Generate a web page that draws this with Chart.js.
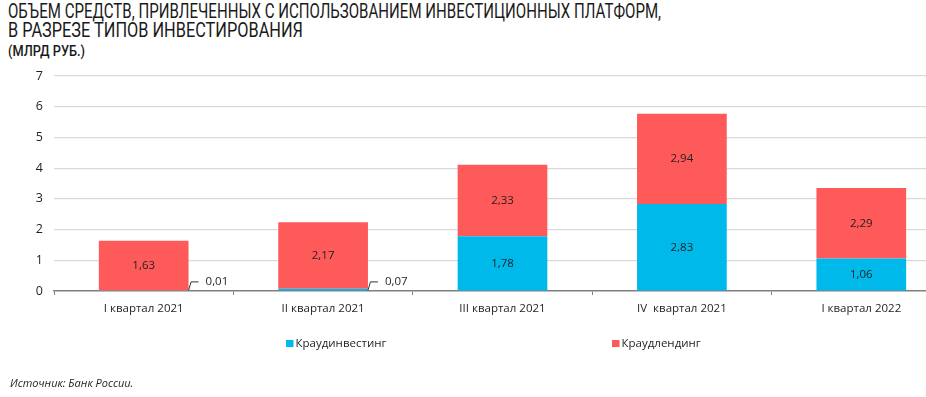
<!DOCTYPE html>
<html>
<head>
<meta charset="utf-8">
<script src="https://cdn.jsdelivr.net/npm/chart.js"></script>
<style>
  html, body { margin: 0; padding: 0; background: #fff; overflow: hidden; }
  body { width: 926px; height: 397px; position: relative; }
  .head {
    position: absolute; left: 8px;
    font-family: Roboto, "Liberation Sans", sans-serif;
    font-size: 20.5px; line-height: 19px; color: #1a1a1a;
    transform-origin: 0 0; white-space: nowrap;
  }
  #t1 { top: 2px; }
  #t2 { top: 21px; }
  #unit {
    position: absolute; left: 8px; top: 43px;
    font-family: Roboto, "Liberation Sans", sans-serif;
    font-size: 14px; font-weight: 500; color: #1a1a1a;
    transform-origin: 0 0; white-space: nowrap;
  }
  #source {
    position: absolute; left: 10px; top: 375px;
    font-family: "Open Sans", sans-serif; font-style: italic;
    font-size: 11px; color: #1f1f1f;
  }
  #wrap { position: absolute; left: 0; top: 0; width: 951px; height: 397px; }
</style>
</head>
<body>
<div class="head" id="t1">ОБЪЕМ СРЕДСТВ, ПРИВЛЕЧЕННЫХ С ИСПОЛЬЗОВАНИЕМ ИНВЕСТИЦИОННЫХ ПЛАТФОРМ,</div>
<div class="head" id="t2">В РАЗРЕЗЕ ТИПОВ ИНВЕСТИРОВАНИЯ</div>
<div id="unit">(МЛРД РУБ.)</div>
<div id="wrap"><canvas id="chart"></canvas></div>
<div id="source">Источник: Банк России.</div>
<script>
const categories = ["I квартал 2021", "II квартал 2021", "III квартал 2021", "IV  квартал 2021", "I квартал 2022"];
const crowdinvesting = [0.01, 0.07, 1.78, 2.83, 1.06];
const crowdlending = [1.63, 2.17, 2.33, 2.94, 2.29];
const seriesNames = ["Краудинвестинг", "Краудлендинг"];
const seriesColors = ["#00B9EB", "#FF5A5A"];
const yTicks = [0, 1, 2, 3, 4, 5, 6, 7];

const textColor = "#1f1f1f";
const font = "Open Sans";

// squeeze the condensed-looking headings to the reference widths
function squeeze(id, target) {
    const el = document.getElementById(id);
    const w = el.getBoundingClientRect().width;
    el.style.transform = "scaleX(" + (target / w) + ")";
}
squeeze("t1", 653);
squeeze("t2", 295);
squeeze("unit", 77);

function fmt(v) {
    return v.toFixed(2).replace(".", ",");
}

// labels inside segments; tiny segments get a leader line to the right
const valueLabels = {
    id: "valueLabels",
    afterDatasetsDraw(chart) {
        const ctx = chart.ctx;
        ctx.save();
        ctx.font = "11.5px '" + font + "'";
        ctx.fillStyle = textColor;
        ctx.strokeStyle = "#333";
        ctx.lineWidth = 1;
        ctx.textBaseline = "middle";
        chart.data.datasets.forEach((ds, di) => {
            chart.getDatasetMeta(di).data.forEach((bar, i) => {
                const v = ds.data[i];
                if (v >= 0.5) {
                    ctx.textAlign = "center";
                    ctx.fillText(fmt(v), bar.x, (bar.y + bar.base) / 2);
                } else {
                    const x0 = bar.x + bar.width / 2;
                    const y0 = bar.base;
                    ctx.beginPath();
                    ctx.moveTo(x0, y0);
                    ctx.lineTo(x0 + 2.5, y0 - 8.5);
                    ctx.lineTo(x0 + 10, y0 - 8.5);
                    ctx.stroke();
                    ctx.textAlign = "left";
                    ctx.fillText(fmt(v), x0 + 17, y0 - 8.5);
                }
            });
        });
        ctx.restore();
    }
};

// legend drawn below the axis labels
const legendX = [286, 612];
const bottomLegend = {
    id: "bottomLegend",
    afterDraw(chart) {
        const ctx = chart.ctx;
        ctx.save();
        ctx.font = "11.5px '" + font + "'";
        ctx.textBaseline = "middle";
        ctx.textAlign = "left";
        chart.data.datasets.forEach((ds, di) => {
            const x = legendX[di];
            ctx.fillStyle = ds.backgroundColor;
            ctx.fillRect(x, 340, 7.5, 7);
            ctx.fillStyle = textColor;
            ctx.fillText(ds.label, x + 9.5, 344);
        });
        ctx.restore();
    }
};

new Chart(document.getElementById("chart"), {
    type: "bar",
    data: {
        labels: categories,
        datasets: [
            { label: seriesNames[0], data: crowdinvesting, backgroundColor: seriesColors[0] },
            { label: seriesNames[1], data: crowdlending, backgroundColor: seriesColors[1] }
        ]
    },
    options: {
        responsive: true,
        maintainAspectRatio: false,
        animation: false,
        layout: { padding: { top: 76, left: 0, right: 0, bottom: 0 } },
        datasets: {
            bar: {
                barPercentage: 0.5,
                categoryPercentage: 1,
                borderWidth: 0
            }
        },
        plugins: {
            legend: { display: false },
            tooltip: { enabled: false }
        },
        scales: {
            x: {
                stacked: true,
                border: { color: "#7f7f7f", width: 1.5 },
                grid: {
                    offset: true,
                    drawOnChartArea: false,
                    drawTicks: true,
                    tickLength: 4,
                    color: "#7f7f7f"
                },
                ticks: {
                    color: textColor,
                    padding: 7,
                    maxRotation: 0,
                    font: { family: font, size: 11.5 }
                },
                afterFit(scale) { scale.height = 106; }
            },
            y: {
                stacked: true,
                min: 0,
                max: 7,
                border: { display: false },
                grid: {
                    drawTicks: false,
                    color: (c) => c.tick && c.tick.value === 0 ? "rgba(0,0,0,0)" : "#d9d9d9",
                    lineWidth: 1.2
                },
                afterBuildTicks(scale) {
                    scale.ticks = yTicks.map(v => ({ value: v }));
                },
                ticks: {
                    color: textColor,
                    padding: 11,
                    font: { family: font, size: 12.5 }
                },
                afterFit(scale) { scale.width = 54; }
            }
        }
    },
    plugins: [valueLabels, bottomLegend]
});
</script>
</body>
</html>
